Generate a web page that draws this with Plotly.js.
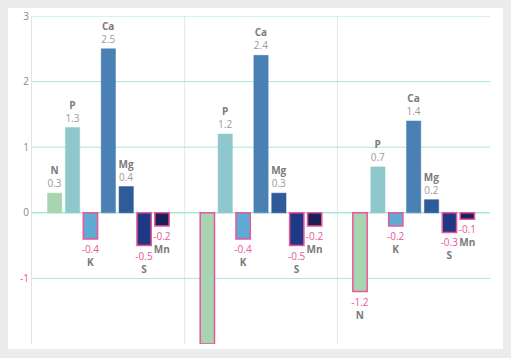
<!DOCTYPE html>
<html>
<head>
<meta charset="utf-8">
<script src="https://cdn.plot.ly/plotly-3.0.1.min.js"></script>
<style>
  html, body { margin:0; padding:0; background:#ececec; width:511px; height:358px; overflow:hidden; }
  #card { position:absolute; left:8px; top:8px; width:495px; height:341px; overflow:hidden; background:#fff; }
  #chart { width:495px; height:341px; }
</style>
</head>
<body>
<div id="card"><div id="chart"></div></div>
<script>
const groups = ["Sample 1", "Sample 2", "Sample 3"];
const elements = ["N", "P", "K", "Ca", "Mg", "S", "Mn"];
const N  = [0.3, -2.0, -1.2];
const P  = [1.3, 1.2, 0.7];
const K  = [-0.4, -0.4, -0.2];
const Ca = [2.5, 2.4, 1.4];
const Mg = [0.4, 0.3, 0.2];
const S  = [-0.5, -0.5, -0.3];
const Mn = [-0.2, -0.2, -0.1];
const seriesValues = [N, P, K, Ca, Mg, S, Mn];
const colors = ["#a9d4b1", "#8fc8cc", "#5fabd3", "#4a80b3", "#2e5b99", "#1f3884", "#1b2158"];
const yTicks = [-2, -1, 0, 1, 2, 3];
const yRange = [-2, 3];

const PINK = "#e8579a";
const NAME = "#7a7a7a";
const VAL = "#9a9a9a";
const GRID = "#a8e8dc";

const traces = elements.map((el, i) => {
  const vals = seriesValues[i];
  return {
    type: "bar",
    name: el,
    x: groups,
    y: vals,
    marker: {
      color: colors[i],
      line: { color: vals.map(v => v < 0 ? PINK : colors[i]), width: vals.map(v => v < 0 ? 1.5 : 0.5) }
    },
    text: vals.map(v => v <= yRange[0] ? '' : (v < 0
      ? '<span style="color:' + PINK + '">' + v.toFixed(1) + '</span><br><b><span style="color:' + NAME + '">' + el + '</span></b>'
      : '<b><span style="color:' + NAME + '">' + el + '</span></b><br><span style="color:' + VAL + '">' + v.toFixed(1) + '</span>')),
    textposition: "outside",
    constraintext: "none",
    cliponaxis: true,
    textfont: { family: "Open Sans, sans-serif", size: 10, color: VAL },
    hoverinfo: "none"
  };
});

const gridShapes = yTicks.filter(t => t > yRange[0]).map(t => ({
  type: "line", xref: "paper", yref: "y", x0: 0, x1: 1, y0: t, y1: t,
  line: { color: GRID, width: t === 0 ? 1.5 : 1 }, layer: "below"
}));
const sepShapes = [0.5, 1.5].map(p => ({
  type: "line", xref: "x", yref: "paper", x0: p, x1: p, y0: 0, y1: 1,
  line: { color: "#e6e6e6", width: 1 }, layer: "below"
}));

const layout = {
  width: 495, height: 341,
  margin: { l: 24, r: 13, t: 8, b: 5 },
  paper_bgcolor: "#ffffff",
  plot_bgcolor: "#ffffff",
  showlegend: false,
  barmode: "group",
  bargap: 0.18,
  bargroupgap: 0.2,
  font: { family: "Open Sans, sans-serif", size: 10, color: "#888" },
  xaxis: {
    type: "category",
    range: [-0.5, 2.5],
    showticklabels: false,
    showgrid: false,
    zeroline: false,
    showline: false,
    ticks: ""
  },
  yaxis: {
    range: yRange,
    tickvals: yTicks,
    ticktext: yTicks.map(t => t < 0 ? '<span style="color:' + PINK + '">' + t + '</span>' : String(t)),
    tickfont: { size: 10, color: "#888" },
    showgrid: false,
    zeroline: false,
    showline: true,
    linecolor: "#e3e3e3",
    linewidth: 1,
    ticks: "",
    ticklen: 0
  },
  shapes: sepShapes.concat(gridShapes)
};

Plotly.newPlot("chart", traces, layout, { displayModeBar: false, staticPlot: true });
</script>
</body>
</html>
